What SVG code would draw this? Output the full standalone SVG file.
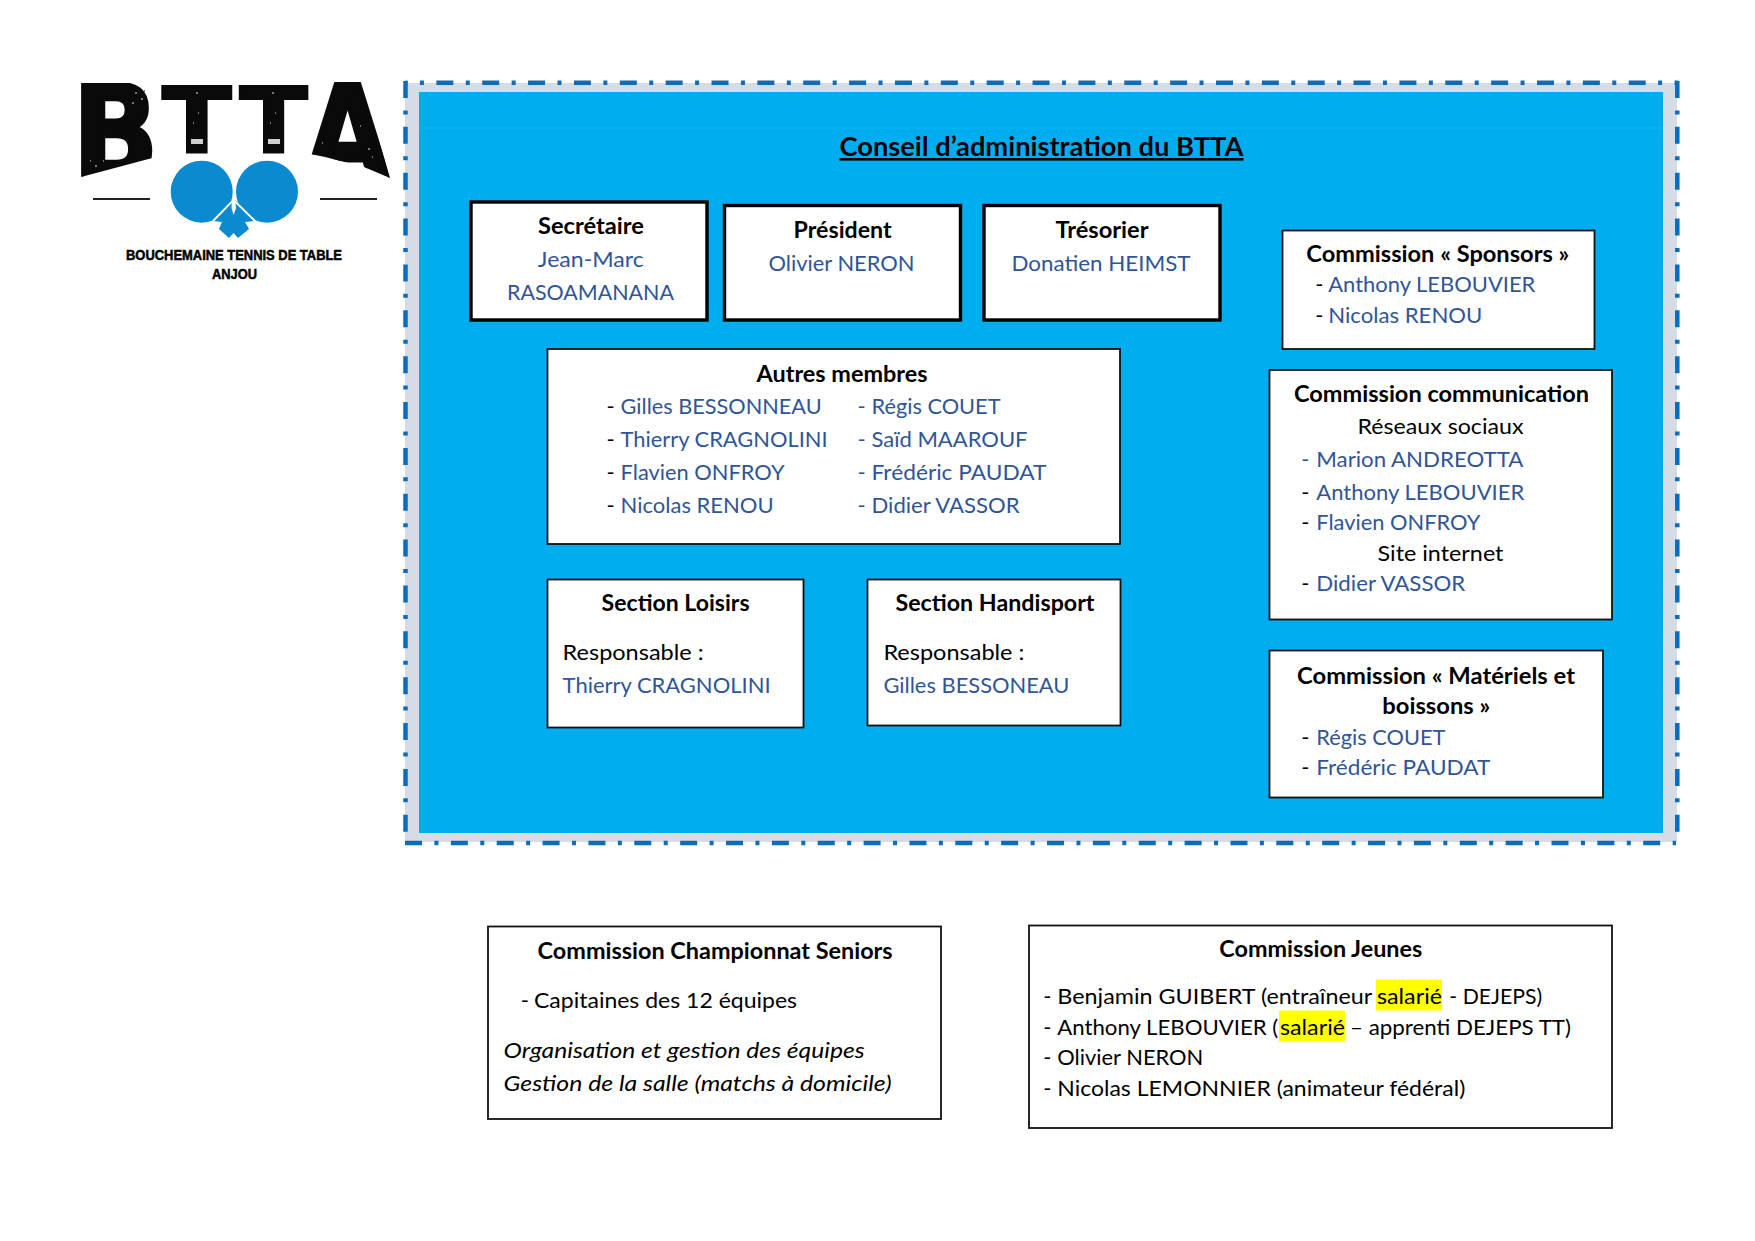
<svg xmlns="http://www.w3.org/2000/svg" width="1755" height="1241" viewBox="0 0 1755 1241">
<style>
text{font-family:"Lato","Carlito","Open Sans",sans-serif;font-size:22px;fill:#000}
.b{font-weight:700}
.n{fill:#2f5597}
.m{text-anchor:middle}
.i{font-style:italic}
.box{fill:#fff;stroke:#111;stroke-width:1.8}
.thick{fill:#fff;stroke:#000;stroke-width:3.4}
.dd{stroke:#0b6cbb;stroke-width:4.5;fill:none;stroke-dasharray:17 12.43 4 12.43}
.logo{font-family:"DejaVu Sans",sans-serif;font-weight:700;font-size:100px;fill:#0a0a0a;stroke:#0a0a0a;stroke-width:2.4}
.tag{font-family:"Liberation Sans",Arial,sans-serif;font-weight:700;font-size:14px;stroke:#000;stroke-width:.5}
.rk{fill:#0b8ad0}
.hl{fill:#ffff00}
</style>
<defs>
<clipPath id="cb"><polygon points="81,83 156,83 156,157 81,177"/></clipPath>
<clipPath id="ca"><polygon points="328,82 363,82 390,178 364,167 325,157 305.500,153"/></clipPath>
</defs>
<g id="logo">
<g clip-path="url(#cb)"><text class="logo" transform="translate(72,178) scale(1.14,1.3)">B</text></g>
<text class="logo" transform="translate(162,152) scale(1.02,.9)">T</text>
<text class="logo" transform="translate(239.500,152) scale(1,.9)">T</text>
<g clip-path="url(#ca)"><text class="logo" transform="translate(305,178) scale(1.1,1.31)">A</text></g>
<path d="M191 139h12v5h-12zM268 139h12v5h-12z" fill="#cfcfcf"/>
<path d="M135 92h2v2h-2zM141 98h2v2h-2zM132 102h2v2h-2zM144 90h1v2h-1zM95 165h2v2h-2zM90 160h1v2h-1zM103 160h1v2h-1zM196 92h2v2h-2zM198 112h1v2h-1zM193 122h1v2h-1zM272 92h2v2h-2zM275 112h1v2h-1zM270 122h1v2h-1zM360 125h1v2h-1zM368 148h2v2h-2zM372 156h1v2h-1zM322 142h1v2h-1z" fill="#777"/>
<g id="rackets">
<circle class="rk" cx="201.700" cy="191.700" r="31"/>
<circle class="rk" cx="267" cy="191.700" r="31"/>
<polygon class="rk" points="233.500,198 213,221 222,222 219,229 229,238 233.500,233 238,238 249,229 245,222 255,221"/>
<path d="M233.500 200L213 221M233.500 200L255 221" stroke="#fff" stroke-width="1.8" fill="none"/>
<polygon points="232,198 235,198 236,208 233.600,215 231.500,208" fill="#fff"/>
</g>
<path d="M93 199H150M320 199H377" stroke="#222" stroke-width="2" fill="none"/>
<text class="tag" x="126" y="260" textLength="216" lengthAdjust="spacingAndGlyphs">BOUCHEMAINE TENNIS DE TABLE</text>
<text class="tag" x="212" y="279" textLength="45" lengthAdjust="spacingAndGlyphs">ANJOU</text>
</g>
<g id="frame">
<rect x="405" y="83" width="1272" height="759" fill="#d5dce6"/>
<rect x="419" y="92" width="1244" height="741" fill="#00aeef"/>
<path d="M419 128H1663" stroke="#10b4f2" stroke-width="1" fill="none"/>
<path class="dd" d="M405.500 82.700H1678" stroke-dashoffset="15"/>
<path class="dd" d="M405.500 81V843"/>
<path class="dd" d="M1677.300 81V843"/>
<path class="dd" d="M405 843H1676"/>
<text id="title" class="b" style="font-size:26px" x="839.500" y="156" textLength="404" lengthAdjust="spacingAndGlyphs" text-decoration="underline">Conseil d’administration du BTTA</text>
</g>
<g id="secretaire">
<rect class="thick" x="471" y="202" width="236" height="118"/>
<text class="b" x="538" y="234" textLength="106" lengthAdjust="spacingAndGlyphs">Secrétaire</text>
<text class="n" x="537.800" y="267" textLength="106" lengthAdjust="spacingAndGlyphs">Jean-Marc</text>
<text class="n" x="507" y="300" textLength="167" lengthAdjust="spacingAndGlyphs">RASOAMANANA</text>
</g>
<g id="president">
<rect class="thick" x="724.500" y="205.500" width="236" height="114.500"/>
<text class="b" x="793.600" y="238" textLength="98" lengthAdjust="spacingAndGlyphs">Président</text>
<text class="n" x="768.500" y="271" textLength="146" lengthAdjust="spacingAndGlyphs">Olivier NERON</text>
</g>
<g id="tresorier">
<rect class="thick" x="984" y="205.500" width="236" height="114.500"/>
<text class="b" x="1055.500" y="238" textLength="93" lengthAdjust="spacingAndGlyphs">Trésorier</text>
<text class="n" x="1011.500" y="271" textLength="179" lengthAdjust="spacingAndGlyphs">Donatien HEIMST</text>
</g>
<g id="autres">
<rect class="box" x="547.500" y="349" width="572.500" height="195"/>
<text class="b" x="756.500" y="382" textLength="171" lengthAdjust="spacingAndGlyphs">Autres membres</text>
<text x="606.600" y="414">-</text><text class="n" x="620.600" y="414" textLength="201" lengthAdjust="spacingAndGlyphs">Gilles BESSONNEAU</text>
<text x="606.600" y="447">-</text><text class="n" x="620.600" y="447" textLength="207" lengthAdjust="spacingAndGlyphs">Thierry CRAGNOLINI</text>
<text x="606.600" y="480">-</text><text class="n" x="620.600" y="480" textLength="164" lengthAdjust="spacingAndGlyphs">Flavien ONFROY</text>
<text x="606.600" y="513">-</text><text class="n" x="620.600" y="513" textLength="153" lengthAdjust="spacingAndGlyphs">Nicolas RENOU</text>
<text class="n" x="857.500" y="414">-</text><text class="n" x="871.500" y="414" textLength="129" lengthAdjust="spacingAndGlyphs">Régis COUET</text>
<text class="n" x="857.500" y="447">-</text><text class="n" x="871.500" y="447" textLength="156" lengthAdjust="spacingAndGlyphs">Saïd MAAROUF</text>
<text class="n" x="857.500" y="480">-</text><text class="n" x="871.500" y="480" textLength="175" lengthAdjust="spacingAndGlyphs">Frédéric PAUDAT</text>
<text class="n" x="857.500" y="513">-</text><text class="n" x="871.500" y="513" textLength="148" lengthAdjust="spacingAndGlyphs">Didier VASSOR</text>
</g>
<g id="loisirs">
<rect class="box" x="547.500" y="579.500" width="256" height="148"/>
<text class="b" x="601.600" y="610.800" textLength="148" lengthAdjust="spacingAndGlyphs">Section Loisirs</text>
<text x="562.600" y="660" textLength="141" lengthAdjust="spacingAndGlyphs">Responsable :</text>
<text class="n" x="562.600" y="693" textLength="208" lengthAdjust="spacingAndGlyphs">Thierry CRAGNOLINI</text>
</g>
<g id="handisport">
<rect class="box" x="867.500" y="579.500" width="253" height="146"/>
<text class="b" x="895.500" y="610.800" textLength="199" lengthAdjust="spacingAndGlyphs">Section Handisport</text>
<text x="883.400" y="660" textLength="141" lengthAdjust="spacingAndGlyphs">Responsable :</text>
<text class="n" x="883.400" y="693" textLength="186" lengthAdjust="spacingAndGlyphs">Gilles BESSONEAU</text>
</g>
<g id="sponsors">
<rect class="box" x="1282.500" y="230.500" width="312" height="118.500"/>
<text class="b" x="1306.300" y="262" textLength="263" lengthAdjust="spacingAndGlyphs">Commission « Sponsors »</text>
<text x="1315.300" y="291.800">-</text><text class="n" x="1328.300" y="291.800" textLength="207" lengthAdjust="spacingAndGlyphs">Anthony LEBOUVIER</text>
<text x="1315.300" y="322.800">-</text><text class="n" x="1328.300" y="322.800" textLength="154" lengthAdjust="spacingAndGlyphs">Nicolas RENOU</text>
</g>
<g id="communication">
<rect class="box" x="1269.500" y="370" width="342.500" height="249.500"/>
<text class="b" x="1294" y="402" textLength="295" lengthAdjust="spacingAndGlyphs">Commission communication</text>
<text class="m" x="1440.500" y="434" textLength="166" lengthAdjust="spacingAndGlyphs">Réseaux sociaux</text>
<text class="n" x="1301.300" y="466.600">-</text><text class="n" x="1316.300" y="466.600" textLength="207" lengthAdjust="spacingAndGlyphs">Marion ANDREOTTA</text>
<text x="1301.300" y="500">-</text><text x="1301.300" y="530">-</text>
<text class="n" x="1316.300" y="500" textLength="208" lengthAdjust="spacingAndGlyphs">Anthony LEBOUVIER</text>
<text class="n" x="1316.300" y="530" textLength="164" lengthAdjust="spacingAndGlyphs">Flavien ONFROY</text>
<text class="m" x="1440.500" y="560.600" textLength="126" lengthAdjust="spacingAndGlyphs">Site internet</text>
<text x="1301.300" y="590.600">-</text><text class="n" x="1316.300" y="590.600" textLength="149" lengthAdjust="spacingAndGlyphs">Didier VASSOR</text>
</g>
<g id="materiels">
<rect class="box" x="1269.500" y="650.500" width="333.500" height="147"/>
<text class="b" x="1297" y="683.800" textLength="278" lengthAdjust="spacingAndGlyphs">Commission « Matériels et</text>
<text class="b" x="1382.300" y="713.800" textLength="108" lengthAdjust="spacingAndGlyphs">boissons »</text>
<text x="1301.300" y="744.600">-</text><text class="n" x="1316.300" y="744.600" textLength="129" lengthAdjust="spacingAndGlyphs">Régis COUET</text>
<text x="1301.300" y="774.600">-</text><text class="n" x="1316.300" y="774.600" textLength="174" lengthAdjust="spacingAndGlyphs">Frédéric PAUDAT</text>
</g>
<g id="championnat">
<rect class="box" x="488" y="926.500" width="453" height="192.500"/>
<text class="b" x="537.600" y="958.500" textLength="355" lengthAdjust="spacingAndGlyphs">Commission Championnat Seniors</text>
<text x="520.800" y="1007.500">-</text><text x="534" y="1007.500" textLength="263" lengthAdjust="spacingAndGlyphs">Capitaines des 12 équipes</text>
<text class="i" x="503.600" y="1057.500" textLength="361" lengthAdjust="spacingAndGlyphs">Organisation et gestion des équipes</text>
<text class="i" x="503.600" y="1090.500" textLength="388" lengthAdjust="spacingAndGlyphs">Gestion de la salle (matchs à domicile)</text>
</g>
<g id="jeunes">
<rect class="box" x="1029" y="925.500" width="583" height="202.500"/>
<text class="b" x="1219.300" y="956.500" textLength="203" lengthAdjust="spacingAndGlyphs">Commission Jeunes</text>
<rect class="hl" x="1376" y="979.500" width="66" height="31"/>
<rect class="hl" x="1279" y="1010.500" width="66" height="31"/>
<text x="1043.300" y="1003.500">-</text><text x="1057.300" y="1003.500" textLength="315" lengthAdjust="spacingAndGlyphs">Benjamin GUIBERT (entraîneur</text>
<text x="1377" y="1003.500" textLength="65" lengthAdjust="spacingAndGlyphs">salarié</text>
<text x="1449.300" y="1003.500" textLength="93" lengthAdjust="spacingAndGlyphs">- DEJEPS)</text>
<text x="1043.300" y="1034.500">-</text><text x="1057.300" y="1034.500" textLength="221" lengthAdjust="spacingAndGlyphs">Anthony LEBOUVIER (</text>
<text x="1280" y="1034.500" textLength="65" lengthAdjust="spacingAndGlyphs">salarié</text>
<text x="1350" y="1034.500" textLength="221" lengthAdjust="spacingAndGlyphs">– apprenti DEJEPS TT)</text>
<text x="1043.300" y="1065">-</text><text x="1057.300" y="1065" textLength="146" lengthAdjust="spacingAndGlyphs">Olivier NERON</text>
<text x="1043.300" y="1096">-</text><text x="1057.300" y="1096" textLength="408" lengthAdjust="spacingAndGlyphs">Nicolas LEMONNIER (animateur fédéral)</text>
</g>
</svg>
